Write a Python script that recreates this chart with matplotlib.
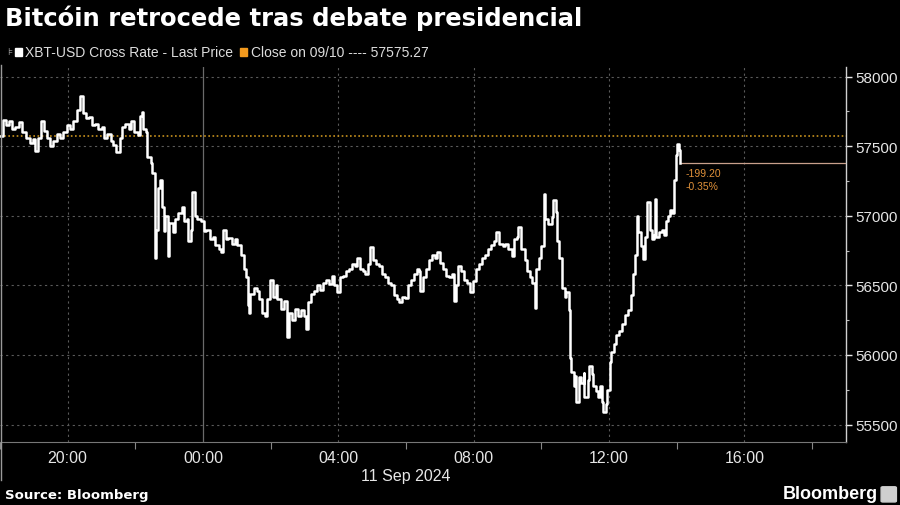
import numpy as np
import matplotlib
matplotlib.use("Agg")
import matplotlib.pyplot as plt
import matplotlib.dates as mdates
from matplotlib.patches import Rectangle, FancyBboxPatch
from matplotlib.lines import Line2D
from datetime import datetime, timedelta

plt.rcParams['font.family'] = ['Liberation Sans', 'DejaVu Sans']

# datos: minutos desde 10 sep 18:00 y precio XBT-USD
minutos = [0, 5, 11, 16, 21, 27, 34, 39, 46, 53, 59, 62, 68, 73, 78, 84, 89, 94, 101, 107,
           112, 119, 124, 130, 137, 142, 148, 153, 158, 164, 169, 174, 180, 185, 190, 196, 201, 206, 212, 217,
           222, 228, 233, 238, 244, 249, 251, 254, 258, 261, 267, 270, 274, 277, 281, 284, 288, 290, 293, 297,
           300, 306, 311, 316, 322, 327, 331, 334, 338, 341, 345, 350, 356, 361, 366, 372, 377, 382, 388, 391,
           395, 400, 405, 411, 416, 421, 427, 432, 436, 439, 441, 444, 450, 455, 459, 464, 469, 473, 478, 484,
           489, 492, 498, 503, 508, 512, 517, 523, 528, 533, 539, 542, 546, 551, 556, 562, 567, 572, 578, 583,
           588, 592, 597, 603, 608, 613, 619, 624, 629, 633, 638, 644, 647, 652, 656, 661, 667, 672, 677, 683,
           688, 693, 699, 704, 708, 713, 718, 724, 729, 734, 740, 743, 745, 750, 756, 761, 766, 772, 775, 780,
           786, 791, 796, 802, 805, 809, 812, 818, 823, 828, 834, 839, 844, 850, 855, 860, 866, 871, 876, 880,
           885, 891, 896, 901, 907, 912, 917, 919, 924, 930, 935, 940, 944, 948, 951, 956, 960, 964, 967, 972,
           978, 981, 985, 988, 992, 996, 1001, 1004, 1008, 1010, 1013, 1017, 1020, 1022, 1026, 1031, 1035, 1036, 1042, 1045,
           1049, 1052, 1056, 1060, 1063, 1067, 1070, 1074, 1077, 1081, 1084, 1088, 1092, 1097, 1102, 1108, 1113, 1118, 1122, 1125,
           1129, 1132, 1136, 1140, 1143, 1147, 1148, 1152, 1156, 1159, 1161, 1164, 1168, 1173, 1177, 1180, 1184, 1188, 1191, 1195,
           1198, 1200, 1204, 1205]
precios = [57575, 57690, 57650, 57680, 57620, 57640, 57670, 57600, 57560, 57520, 57550, 57465, 57560, 57680, 57610, 57560, 57500, 57540, 57590, 57560,
           57600, 57650, 57620, 57680, 57760, 57860, 57740, 57700, 57710, 57650, 57660, 57620, 57640, 57560, 57590, 57540, 57510, 57460, 57560, 57640,
           57660, 57620, 57680, 57600, 57580, 57720, 57745, 57620, 57600, 57420, 57380, 57310, 56700, 56900, 57200, 57260, 57060, 56890, 57000, 56710,
           56950, 56880, 56980, 57020, 57060, 56960, 56980, 56820, 56900, 57170, 57000, 56980, 56960, 56890, 56900, 56830, 56850, 56790, 56760, 56740,
           56900, 56830, 56840, 56800, 56830, 56790, 56720, 56620, 56560, 56360, 56300, 56440, 56480, 56460, 56400, 56300, 56280, 56400, 56540, 56420,
           56500, 56400, 56330, 56390, 56130, 56300, 56250, 56330, 56280, 56320, 56280, 56190, 56380, 56440, 56460, 56500, 56470, 56520, 56540, 56510,
           56570, 56500, 56450, 56560, 56570, 56600, 56620, 56650, 56640, 56700, 56620, 56600, 56580, 56650, 56775, 56680, 56650, 56640, 56580, 56560,
           56520, 56500, 56430, 56400, 56380, 56420, 56410, 56500, 56540, 56580, 56620, 56600, 56460, 56560, 56620, 56680, 56720, 56700, 56740, 56660,
           56620, 56570, 56560, 56580, 56390, 56500, 56640, 56600, 56540, 56520, 56450, 56530, 56620, 56650, 56700, 56720, 56760, 56790, 56820, 56880,
           56800, 56780, 56800, 56760, 56710, 56830, 56850, 56920, 56760, 56680, 56600, 56560, 56520, 56340, 56620, 56700, 56780, 57155, 56980, 56940,
           56990, 57110, 57030, 56820, 56700, 56480, 56420, 56450, 56320, 55980, 55880, 55780, 55850, 55660, 55840, 55800, 55870, 55700, 55820, 55920,
           55860, 55780, 55740, 55700, 55780, 55660, 55590, 55650, 55750, 55950, 56020, 56080, 56140, 56170, 56220, 56290, 56320, 56430, 56580, 56720,
           57000, 56880, 56780, 56690, 56850, 56960, 57100, 56900, 56830, 56860, 57120, 56850, 56880, 56900, 56860, 56960, 57000, 57040, 57020, 57260,
           57440, 57515, 57470, 57376.07]

cierre_previo = 57575.27
yticks = [55500, 56000, 56500, 57000, 57500, 58000]
titulo = "Bitcóin retrocede tras debate presidencial"

inicio = datetime(2024, 9, 10, 18, 0)
tiempos = [inicio + timedelta(minutes=m) for m in minutos]

fig = plt.figure(figsize=(9, 5.06), dpi=100, facecolor='black')
ax = fig.add_axes([0.0, 0.1245, 0.94, 0.7415], facecolor='black')

x0 = inicio
x1 = datetime(2024, 9, 11, 19, 0)
ax.set_xlim(x0, x1)
ax.set_ylim(55375, 58070)

# rejilla
for v in yticks:
    ax.axhline(v, color='#5a5a5a', lw=0.8, ls=(0, (2, 3)), zorder=1)
for h in [datetime(2024, 9, 10, 20), datetime(2024, 9, 11, 4), datetime(2024, 9, 11, 8),
          datetime(2024, 9, 11, 12), datetime(2024, 9, 11, 16)]:
    ax.axvline(h, color='#5a5a5a', lw=0.8, ls=(0, (2, 3)), zorder=1)
ax.axvline(datetime(2024, 9, 11, 0), color='#6a6a6a', lw=0.9, zorder=1)

# cierre anterior
ax.axhline(cierre_previo, color='#c8921e', lw=1.2, ls=(0, (1, 1.5)), zorder=2)

# serie
ax.plot(tiempos, precios, color='white', lw=1.8, drawstyle='steps-post', zorder=4)

# último precio
ultimo = precios[-1]
ax.plot([tiempos[-1], x1], [ultimo, ultimo], color='#c9a08c', lw=0.9, zorder=3)
cambio = ultimo - cierre_previo
pct = cambio / cierre_previo * 100
ax.annotate(f"{cambio:.2f}", (tiempos[-1], ultimo), xytext=(4, -7), textcoords='offset points',
            color='#e0913a', fontsize=7.5, va='center', ha='left')
ax.annotate(f"{pct:.2f}%", (tiempos[-1], ultimo), xytext=(4, -16), textcoords='offset points',
            color='#e0913a', fontsize=7.5, va='center', ha='left')

# ejes
ax.yaxis.tick_right()
ax.set_yticks(yticks)
ax.set_yticklabels([str(v) for v in yticks])
ax.yaxis.set_minor_locator(matplotlib.ticker.MultipleLocator(250))
ax.tick_params(axis='y', which='major', colors='#e6e6e6', labelsize=11, length=4, width=1, pad=3)
ax.tick_params(axis='y', which='minor', colors='#bbbbbb', length=2, width=0.8)

ax.xaxis.set_major_locator(mdates.HourLocator(byhour=[0, 4, 8, 12, 16, 20]))
ax.xaxis.set_major_formatter(mdates.DateFormatter('%H:%M'))
ax.xaxis.set_minor_locator(mdates.HourLocator(byhour=[2, 6, 10, 14, 18, 22]))
ax.tick_params(axis='x', which='major', colors='#e6e6e6', labelsize=11.5, length=0, pad=6)
ax.tick_params(axis='x', which='minor', colors='#888888', length=5, width=0.8)

for s in ['top', 'left']:
    ax.spines[s].set_visible(False)
ax.spines['right'].set_color('#d0d0d0')
ax.spines['right'].set_linewidth(1.0)
ax.spines['bottom'].set_color('#777777')
ax.spines['bottom'].set_linewidth(0.8)

ax.text(datetime(2024, 9, 11, 6), -0.09, "11 Sep 2024", transform=ax.get_xaxis_transform(),
        ha='center', va='center', color='#e6e6e6', fontsize=11.5)

# línea del borde izquierdo
fig.add_artist(Line2D([0.001, 0.001], [0.05, 0.87], color='#9a9a9a', lw=1.0))

# título y leyenda
fig.text(0.006, 0.963, titulo, color='white', fontsize=17.5, fontweight='bold',
         va='center', ha='left', family=['DejaVu Sans'])
fig.text(0.008, 0.897, "⊧", color='#aaaaaa', fontsize=7, va='center', ha='left', family=['DejaVu Sans'])
fig.add_artist(Rectangle((0.0165, 0.888), 0.008, 0.0155, color='white', transform=fig.transFigure))
fig.text(0.028, 0.896, "XBT-USD Cross Rate - Last Price", color='#dddddd', fontsize=10, va='center')
fig.add_artist(Rectangle((0.2665, 0.888), 0.008, 0.0155, color='#f39a1e', transform=fig.transFigure))
fig.text(0.279, 0.896, "Close on 09/10 ---- 57575.27", color='#dddddd', fontsize=10, va='center')

# pie
fig.text(0.006, 0.021, "Source: Bloomberg", color='white', fontsize=9.5, fontweight='bold',
         va='center', ha='left', family=['DejaVu Sans'])
fig.text(0.975, 0.022, "Bloomberg", color='white', fontsize=13, fontweight='bold',
         va='center', ha='right')
fig.add_artist(FancyBboxPatch((0.981, 0.008), 0.013, 0.026, boxstyle='round,pad=0.002',
                              color='#cfcfcf', transform=fig.transFigure))

fig.savefig("out.png", dpi=100, facecolor='black')
